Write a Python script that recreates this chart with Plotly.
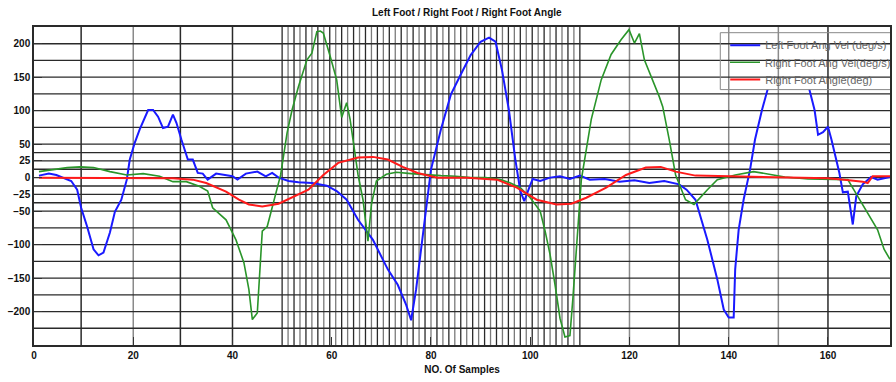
import plotly.graph_objects as go

# ---------------- data ----------------
left_x = [1, 3, 4.5, 6, 7.5, 8.7, 9.5, 10.7, 12, 13, 14, 15.3, 16.3, 17.6, 18.7, 19.3, 20.3, 21.3, 23, 24,
          25, 26, 27, 28, 28.7, 29.7, 31, 32, 33, 34, 35, 36.7, 38.7, 40, 41, 42.7, 45, 46.7, 48, 49.3,
          51.3, 53.3, 56, 59, 61, 63, 65.3, 68.3, 71.3, 73.3, 75, 76, 77, 78, 79, 80, 82, 84, 86, 88,
          90, 91.7, 93, 94.3, 95.7, 97, 98, 98.8, 99.8, 100.5, 102, 104, 106, 108, 110, 112, 115, 118, 121, 124,
          127, 130, 131.5, 133.3, 135.7, 137.7, 139, 140, 141, 141.3, 142, 143, 144.3, 145.3, 146.7, 148, 150, 152,
          154, 156, 157.3, 158, 159, 160, 160.7, 161.2, 162.3, 163, 164, 165, 165.7, 167, 168.7, 170, 172.5]
left_vel = [3, 6, 4, 0, -5, -18, -45, -73, -107, -116, -112, -82, -51, -33, -3, 27, 52, 72, 101, 101,
            91, 74, 76, 94, 82, 57, 27, 27, 7, 6, -3, 6, 4, 2, -3, 6, 9, 2, 7, 0,
            -5, -7, -8, -12, -20, -33, -63, -93, -137, -160, -190, -213, -167, -107, -48, 12, 72, 124, 154, 183,
            203, 209, 203, 161, 101, 27, -20, -35, -15, -2, -5, 0, 2, -2, 3, -3, -2, -6, -4, -8,
            -5, -10, -18, -33, -93, -152, -197, -209, -209, -137, -78, -33, 12, 57, 101, 136, 170, 185,
            170, 139, 101, 64, 68, 76, 57, 42, 7, -22, -21, -70, -28, -10, 1, -3, 1]

right_x = [1, 4, 6.7, 9.3, 12, 15.3, 18.7, 22, 25.3, 28, 30.7, 33.3, 35, 36, 38.7, 40.7, 42.3, 43.3, 44, 45,
           46, 47, 48, 49.3, 49.7, 51, 52, 53.3, 55, 56, 57, 57.7, 58.3, 59.7, 61, 62, 63, 63.7, 64.3, 65.3,
           66.3, 67.3, 68, 69, 71, 73, 76, 79, 82, 85, 88, 91, 94, 96, 98, 100, 102, 103, 104, 105,
           106, 107, 108, 108.6, 109.3, 110.3, 112.3, 114.3, 116.3, 118.3, 119.9, 121, 122, 123, 126, 126.7, 128, 129.3, 131.3, 133,
           135.7, 137.7, 141.3, 145, 149, 151.3, 156, 164, 166, 168, 170, 171.3, 172.5]
right_vel = [9, 12, 15, 16, 15, 9, 4, 6, 2, -6, -6, -13, -20, -45, -63, -93, -127, -167, -212, -202,
             -80, -73, -43, -8, 4, 67, 101, 136, 176, 186, 218, 219, 216, 181, 146, 90, 112, 87, 57, 4,
             -33, -95, -40, -5, 5, 8, 6, 4, 3, 2, 0, 0, -3, -8, -15, -30, -50, -80, -115, -160,
             -210, -238, -236, -180, -110, -3, 87, 146, 184, 206, 221, 201, 215, 176, 121, 106, 57, 4, -33, -40,
             -18, -3, 4, 9, 4, 1, -2, -3, -28, -52, -78, -107, -122]

angle_x = [1, 10, 20, 28, 32, 34.7, 38.7, 41.3, 43.3, 46, 49.3, 52, 55.3, 58.3, 61.3, 65.3, 68.3, 71.3, 74.3, 77.3,
           81.3, 87.3, 93.3, 97.3, 101.3, 105.3, 108.3, 111.3, 115.3, 119.3, 123.3, 126.3, 129.3, 133.3, 140, 150, 160, 163.3, 167, 168,
           169, 172.5]
angle = [0, 0, 0, -1, -3, -8, -21, -33, -40, -43, -39, -30, -18, 4, 22, 30, 31, 27, 16, 7,
         0, 0, -3, -15, -33, -40, -39, -30, -15, 4, 15, 16, 9, 3, 2, 1, -1, -3, -6, -8,
         2, 2]

series_names = ["Left Foot Ang Vel (deg/s)", "Right Foot Ang Vel(deg/s)", "Right Foot Angle(deg)"]

x_ticks = [0, 20, 40, 60, 80, 100, 120, 140, 160]
y_ticks = [200, 150, 100, 50, 25, 0, -25, -50, -100, -150, -200]

# grid positions (irregular, as in the source figure)
grid_x_dark = [9.5, 29.5, 40, 130, 160]
grid_x_light = [20, 120, 140, 150]
grid_x_dense = [round(50 + 1.2 * k, 2) for k in range(51)]
grid_y = [200, 175, 150, 125, 100, 75, 50, 37.5, 25, 12.5, 0, -12.5, -25, -37.5, -50,
          -75, -100, -125, -150, -175, -200, -225]

X_RANGE = [0, 172.5]
Y_RANGE = [-250, 225]

# legend box edges, in data units
LEG_X0, LEG_X1 = 138.3, 173.5
LEG_Y0, LEG_Y1 = 131.5, 216.5

dark, light = "#2a2a2a", "#8a8a8a"

# ---------------- figure ----------------
colors = ["#1a1aff", "#2a952a", "#ff1a1a"]
widths = [2, 1.6, 2]
xs = [left_x, right_x, angle_x]
ys = [left_vel, right_vel, angle]
legend_ids = ["legend", "legend2", "legend3"]

fig = go.Figure()
for i in range(3):
    fig.add_trace(go.Scatter(x=xs[i], y=ys[i], mode="lines", name=series_names[i],
                             line=dict(color=colors[i], width=widths[i]),
                             legend=legend_ids[i]))

# opaque legend box drawn over the data, with the grid continuing across it
fig.add_trace(go.Scatter(x=[LEG_X0, LEG_X1, LEG_X1, LEG_X0, LEG_X0],
                         y=[LEG_Y0, LEG_Y0, LEG_Y1, LEG_Y1, LEG_Y0],
                         mode="lines", fill="toself", fillcolor="white",
                         line=dict(width=0), showlegend=False, hoverinfo="skip"))
for gx, col in [(140, light), (150, light), (160, dark)]:
    fig.add_trace(go.Scatter(x=[gx, gx], y=[LEG_Y0, LEG_Y1], mode="lines",
                             line=dict(color=col, width=1.5), showlegend=False, hoverinfo="skip"))
box_gy = [gy for gy in grid_y if LEG_Y0 < gy < LEG_Y1]
gxs, gys = [], []
for gy in box_gy:
    gxs += [LEG_X0, LEG_X1, None]
    gys += [gy, gy, None]
fig.add_trace(go.Scatter(x=gxs, y=gys, mode="lines", line=dict(color=dark, width=1.3),
                         showlegend=False, hoverinfo="skip"))
fig.add_trace(go.Scatter(x=[LEG_X1, LEG_X0, LEG_X0, LEG_X1],
                         y=[LEG_Y0, LEG_Y0, LEG_Y1, LEG_Y1],
                         mode="lines", line=dict(color="#888", width=1),
                         showlegend=False, hoverinfo="skip"))

shapes = []
for gx in grid_x_dark:
    shapes.append(dict(type="line", xref="x", yref="paper", x0=gx, x1=gx, y0=0, y1=1,
                       line=dict(color=dark, width=1.5), layer="below"))
for gx in grid_x_light:
    shapes.append(dict(type="line", xref="x", yref="paper", x0=gx, x1=gx, y0=0, y1=1,
                       line=dict(color=light, width=1.5), layer="below"))
for i, gx in enumerate(grid_x_dense):
    shapes.append(dict(type="line", xref="x", yref="paper", x0=gx, x1=gx, y0=0, y1=1,
                       line=dict(color=dark if i % 2 == 0 else "#7a7a7a", width=1.3),
                       layer="below"))
for gy in grid_y:
    shapes.append(dict(type="line", xref="paper", yref="y", x0=0, x1=1, y0=gy, y1=gy,
                       line=dict(color=dark, width=1.3), layer="below"))

font_family = "Liberation Sans, Arial, sans-serif"
tick_font = dict(family=font_family, size=10, color="#111", weight="bold")
leg_font = dict(family=font_family, size=11, color="#666")


def leg(ypos):
    return dict(x=0.8075, y=ypos, xanchor="left", yanchor="middle",
                bgcolor="rgba(255,255,255,0)", borderwidth=0,
                font=leg_font, itemwidth=30)


fig.update_layout(
    width=896, height=382,
    margin=dict(l=34, r=0, t=27, b=37),
    paper_bgcolor="white", plot_bgcolor="white",
    shapes=shapes,
    showlegend=True,
    title=dict(text="Left Foot / Right Foot / Right Foot Angle", x=0.521, xanchor="center",
               y=0.968, yanchor="middle", yref="container",
               font=dict(family=font_family, size=10, color="#111", weight="bold")),
    legend=leg(0.943),
    legend2=leg(0.889),
    legend3=leg(0.835),
    xaxis=dict(range=X_RANGE, tickvals=x_ticks, ticks="inside", ticklen=8, tickcolor="#333",
               showgrid=False, zeroline=False, showline=True, linecolor=dark, linewidth=1.5,
               mirror=True, tickfont=tick_font,
               title=dict(text="NO. Of Samples", standoff=6,
                          font=dict(family=font_family, size=10, color="#111", weight="bold"))),
    yaxis=dict(range=Y_RANGE, tickvals=y_ticks, ticks="inside", ticklen=8, tickcolor="#333",
               showgrid=False, zeroline=False, showline=True, linecolor=dark, linewidth=1.5,
               mirror=True, tickfont=tick_font),
)

fig.write_html("out.html")
